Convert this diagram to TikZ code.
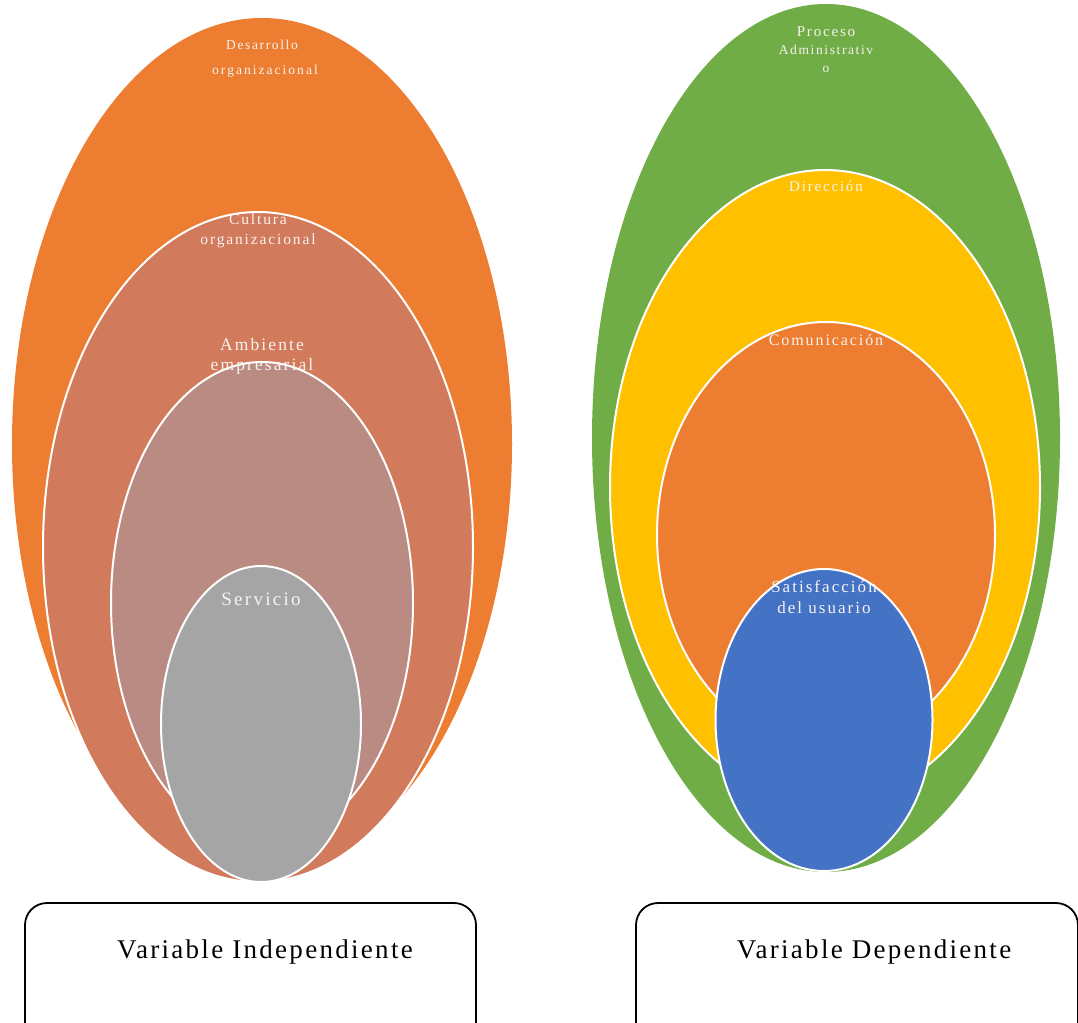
\documentclass[tikz,border=0pt]{standalone}
\usepackage{fontspec}
\setmainfont{Liberation Serif}
\newfontfamily\lsfont{Liberation Serif}[LetterSpace=12]
\newfontfamily\lswide{Liberation Serif}[LetterSpace=15]
\newfontfamily\boxfont{Liberation Serif}[LetterSpace=8.5]
\usetikzlibrary{shapes.geometric}
\definecolor{cOrange}{HTML}{ED7D31}
\definecolor{cCult}{HTML}{D27A5C}
\definecolor{cAmb}{HTML}{B98B83}
\definecolor{cServ}{HTML}{A5A5A5}
\definecolor{cGreen}{HTML}{70AD47}
\definecolor{cYellow}{HTML}{FFC000}
\definecolor{cBlue}{HTML}{4472C4}
\definecolor{cText}{HTML}{F7F3F0}
\tikzset{
  oval/.style={ellipse, inner sep=0pt, outer sep=0pt},
  ring/.style={oval, draw=white, line width=2pt},
  lbl/.style={text=cText, anchor=base, inner sep=0pt},
  varbox/.style={draw=black, line width=1.8pt, rounded corners=22pt},
  vartext/.style={anchor=base, inner sep=0pt, font=\fontsize{27}{30}\boxfont}
}
\begin{document}
\begin{tikzpicture}[x=1pt,y=-1pt]
\useasboundingbox (0,0) rectangle (1078,1022);
\clip (0,0) rectangle (1078,1022);
% left group
\node[oval, fill=cOrange, minimum width=500pt, minimum height=852pt] (des) at (262,444) {};
\node[ring, fill=cCult, minimum width=430pt, minimum height=670pt] (cul) at (258,547) {};
\node[ring, fill=cAmb, minimum width=302pt, minimum height=482pt] (amb) at (262,603) {};
\node[ring, fill=cServ, minimum width=200pt, minimum height=316pt] (ser) at (261,724) {};
% right group
\node[oval, fill=cGreen, minimum width=468pt, minimum height=868pt] (pro) at (826,438) {};
\node[ring, fill=cYellow, minimum width=430pt, minimum height=634pt] (dir) at (825,487) {};
\node[ring, fill=cOrange, minimum width=338pt, minimum height=426pt] (com) at (826,535) {};
\node[ring, fill=cBlue, minimum width=217pt, minimum height=302pt] (sat) at (824,720) {};
% labels
\node[lbl, font=\fontsize{13.5}{14}\lsfont] (t1a) at (262,50) {Desarrollo};
\node[lbl, font=\fontsize{13.5}{14}\lswide] (t1b) at (265,75) {organizacional};
\node[lbl, font=\fontsize{15.5}{16}\lsfont] (t2a) at (258,224) {Cultura};
\node[lbl, font=\fontsize{15.5}{16}\lsfont] (t2b) at (258,244) {organizacional};
\node[lbl, font=\fontsize{17.5}{20}\lsfont] (t3a) at (262,350) {Ambiente};
\node[lbl, font=\fontsize{17.5}{20}\lsfont] (t3b) at (262,370) {empresarial};
\node[lbl, font=\fontsize{19}{20}\lsfont] (t4) at (261,605) {Servicio};
\node[lbl, font=\fontsize{15}{16}\lsfont] (t5a) at (826,37) {Proceso};
\node[lbl, font=\fontsize{13.5}{14}\lsfont] (t5b) at (826,55) {Administrativ};
\node[lbl, font=\fontsize{13.5}{14}\lsfont] (t5c) at (826,73) {o};
\node[lbl, font=\fontsize{15}{16}\lsfont] (t6) at (826,191) {Dirección};
\node[lbl, font=\fontsize{16}{18}\lsfont] (t7) at (826,345) {Comunicación};
\node[lbl, font=\fontsize{17}{18}\lsfont] (t8a) at (824,592) {Satisfacción};
\node[lbl, font=\fontsize{17}{18}\lsfont] (t8b) at (824,613) {del usuario};
% boxes
\draw[varbox] (25,1045) -- (25,903) -- (476,903) -- (476,1045);
\node[vartext] (vi) at (265,958) {Variable Independiente};
\draw[varbox] (636,1045) -- (636,903) -- (1078,903) -- (1078,1045);
\node[vartext] (vd) at (874,958) {Variable Dependiente};
\end{tikzpicture}
\end{document}
